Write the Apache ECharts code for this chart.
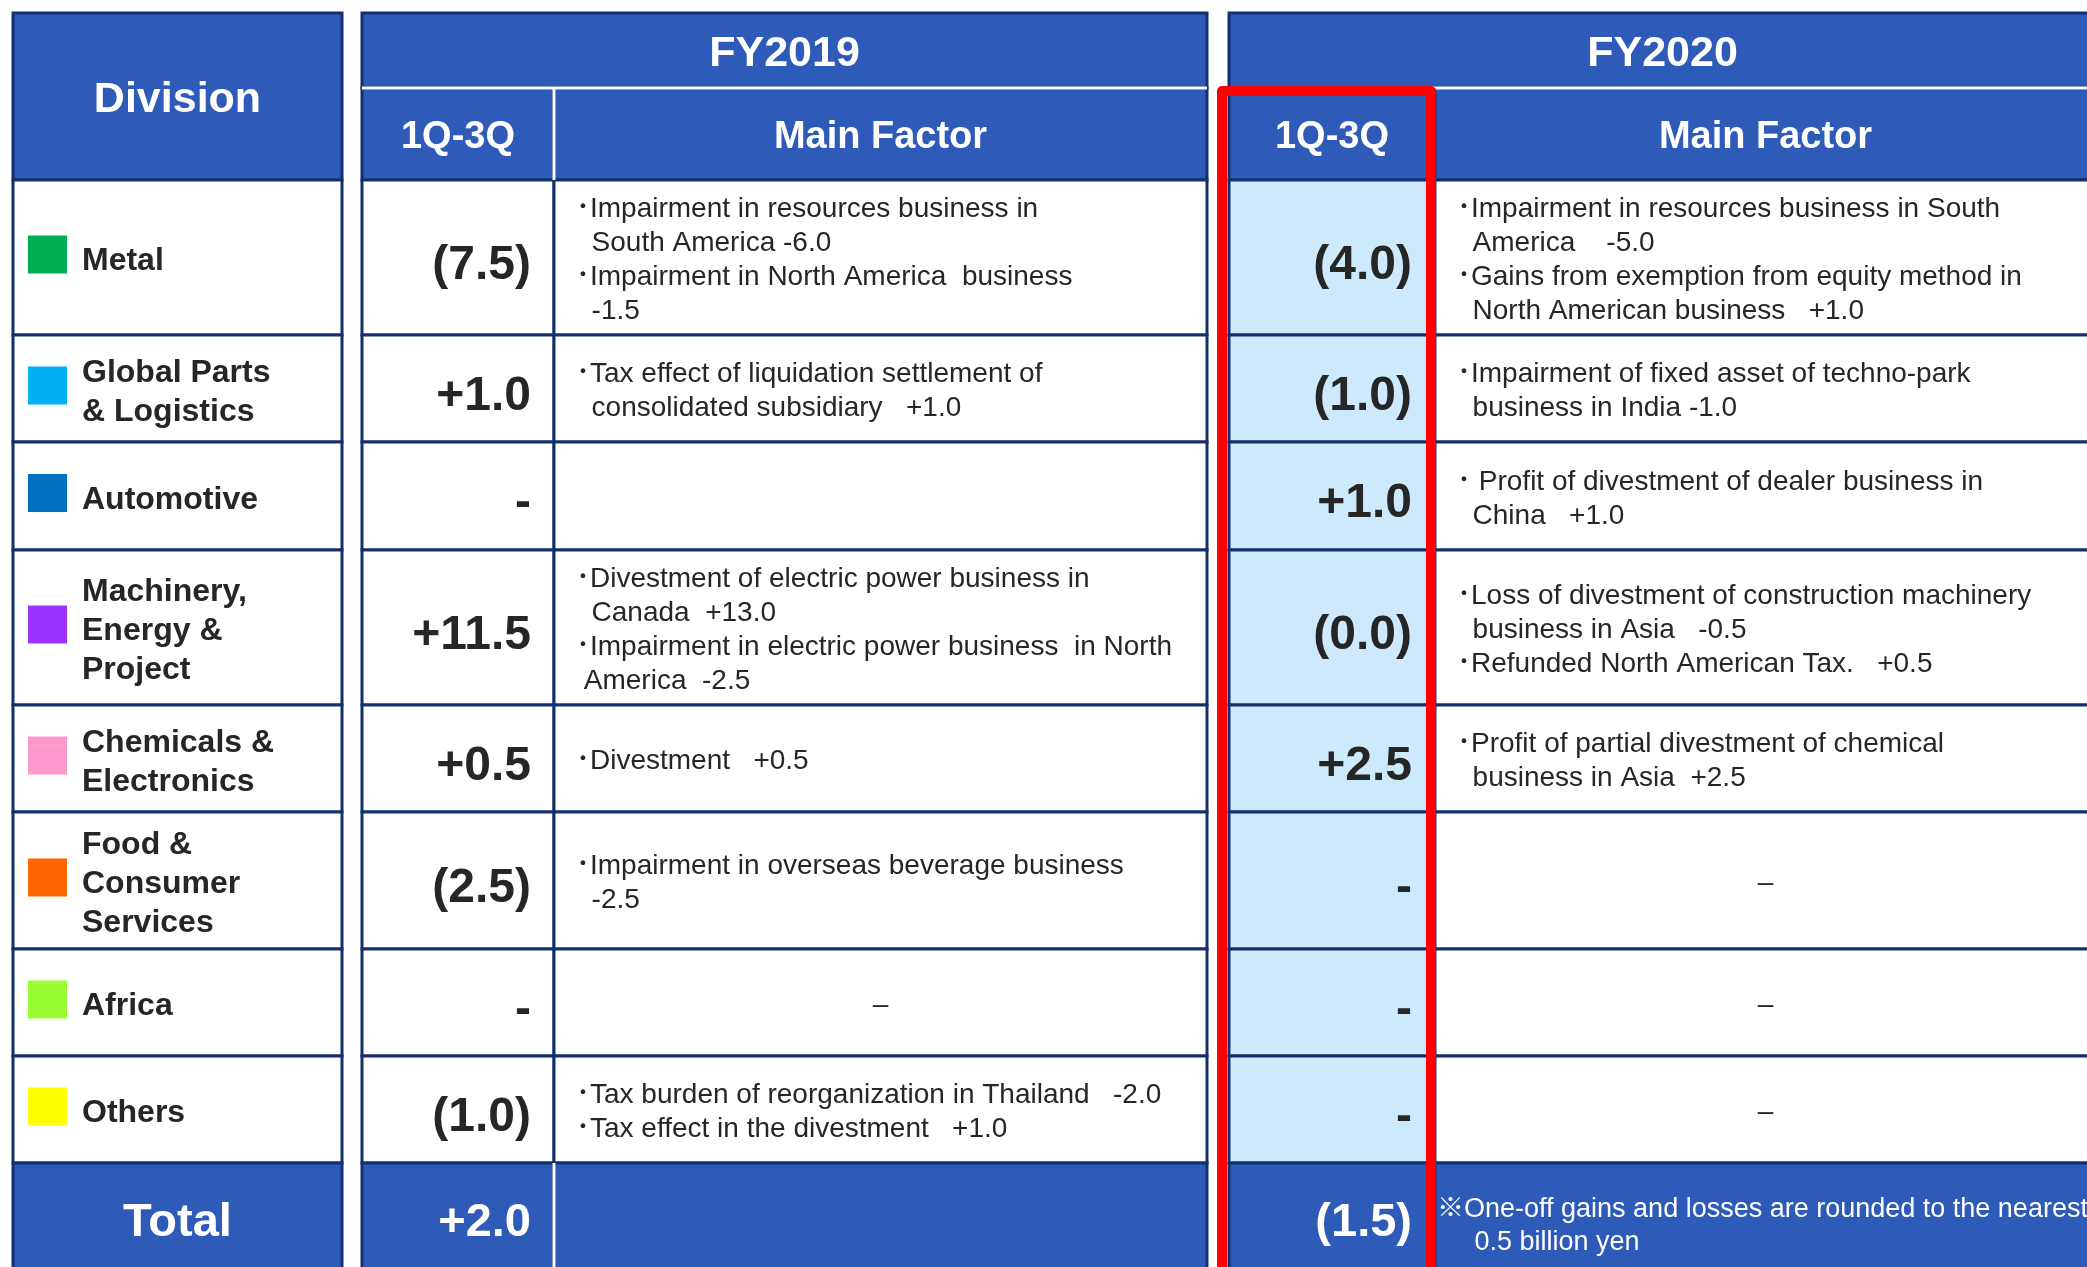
<!DOCTYPE html>
<html>
<head>
<meta charset="utf-8">
<script src="https://cdn.jsdelivr.net/npm/echarts@6/dist/echarts.min.js"></script>
<style>
html,body{margin:0;padding:0;background:#ffffff;}
#chart{width:2087px;height:1267px;}
</style>
</head>
<body>
<div id="chart"></div>
<script>
// ---------------- DATA ----------------
const divisions = [
  'Metal',
  'Global Parts\n& Logistics',
  'Automotive',
  'Machinery,\nEnergy &\nProject',
  'Chemicals &\nElectronics',
  'Food &\nConsumer\nServices',
  'Africa',
  'Others'
];
const divisionSwatches = ['#00B050', '#00B0F0', '#0070C0', '#9933FF', '#FF99CC', '#FF6600', '#99FF33', '#FFFF00'];

const headerDivision = 'Division';
const headerTotal = 'Total';
const periods = ['FY2019', 'FY2020'];
const subHeaders = ['1Q-3Q', 'Main Factor'];

// one-off gains and losses (billion yen), null = none
const fy2019Values = [-7.5, 1.0, null, 11.5, 0.5, -2.5, null, -1.0];
const fy2020Values = [-4.0, -1.0, 1.0, -0.0, 2.5, null, null, null];
const totalValues = [2.0, -1.5];

const fy2019Factors = [
  '\uFF65Impairment in resources business in\n  South America -6.0\n\uFF65Impairment in North America  business\n  -1.5',
  '\uFF65Tax effect of liquidation settlement of\n  consolidated subsidiary   +1.0',
  '',
  '\uFF65Divestment of electric power business in\n  Canada  +13.0\n\uFF65Impairment in electric power business  in North\n America  -2.5',
  '\uFF65Divestment   +0.5',
  '\uFF65Impairment in overseas beverage business\n  -2.5',
  null,
  '\uFF65Tax burden of reorganization in Thailand   -2.0\n\uFF65Tax effect in the divestment   +1.0'
];
const fy2020Factors = [
  '\uFF65Impairment in resources business in South\n  America    -5.0\n\uFF65Gains from exemption from equity method in\n  North American business   +1.0',
  '\uFF65Impairment of fixed asset of techno-park\n  business in India -1.0',
  '\uFF65 Profit of divestment of dealer business in\n  China   +1.0',
  '\uFF65Loss of divestment of construction machinery\n  business in Asia   -0.5\n\uFF65Refunded North American Tax.   +0.5',
  '\uFF65Profit of partial divestment of chemical\n  business in Asia  +2.5',
  null,
  null,
  null
];
const noFactorMark = '\u2013';
const footnote = '\u203BOne-off gains and losses are rounded to the nearest\n     0.5 billion yen';

// ---------------- LAYOUT (axis units) ----------------
const COL = {divL: 13, divR: 342, a0: 362, a1: 554, a2: 1207, b0: 1229, b1: 1435, b2: 2096};
const ROW = {top: 13, band: 88, head: 180, body: [335, 442, 550, 705, 812, 949, 1056, 1163], bottom: 1275};
const HIGHLIGHT = {x0: 1222, x1: 1431, y0: 91, y1: 1300, width: 10};

// ---------------- STYLE ----------------
const BLUE = '#2E5BB7';
const NAVY = '#13306E';
const LIGHT = '#CCEAFB';
const TEXT = '#262626';
const FAM = 'Liberation Sans, Arial, Noto Sans CJK JP, sans-serif';

function fmt(v) {
  if (v === null || v === undefined) return '-';
  if (v < 0 || Object.is(v, -0)) return '(' + Math.abs(v).toFixed(1) + ')';
  return '+' + v.toFixed(1);
}

// ---------------- build cells ----------------
const cellData = [];
const cellMeta = [];
function addCell(x0, y0, x1, y1, meta) {
  cellData.push([x0, y0, x1, y1]);
  cellMeta.push(meta);
}
const H = {size: 43, weight: 'bold', dy: 4};
const S = {size: 38, weight: 'bold', dy: 4};
const V = {size: 48, weight: 'bold', dy: 8};
const T = {size: 47, weight: 'bold', dy: 4};
const L = {size: 32, weight: 'bold', dy: 4};
const F = {size: 28, weight: 'normal', dy: 3};
const N = {size: 27, weight: 'normal', dy: 7};
addCell(COL.divL, ROW.top, COL.divR, ROW.head, {fill: BLUE, text: headerDivision, align: 'center', f: H, color: '#fff'});
addCell(COL.a0, ROW.top, COL.a2, ROW.band, {fill: BLUE, text: periods[0], align: 'center', f: H, color: '#fff'});
addCell(COL.a0, ROW.band, COL.a1, ROW.head, {fill: BLUE, text: subHeaders[0], align: 'center', f: S, color: '#fff'});
addCell(COL.a1, ROW.band, COL.a2, ROW.head, {fill: BLUE, text: subHeaders[1], align: 'center', f: S, color: '#fff'});
addCell(COL.b0, ROW.top, COL.b2, ROW.band, {fill: BLUE, text: periods[1], align: 'center', f: H, color: '#fff'});
addCell(COL.b0, ROW.band, COL.b1, ROW.head, {fill: BLUE, text: subHeaders[0], align: 'center', f: S, color: '#fff'});
addCell(COL.b1, ROW.band, COL.b2, ROW.head, {fill: BLUE, text: subHeaders[1], align: 'center', f: S, color: '#fff'});

divisions.forEach(function (name, i) {
  const y0 = i === 0 ? ROW.head : ROW.body[i - 1];
  const y1 = ROW.body[i];
  addCell(COL.divL, y0, COL.divR, y1, {fill: '#fff', swatch: divisionSwatches[i], text: name, align: 'label', f: L, color: TEXT, lineHeight: 39});
  addCell(COL.a0, y0, COL.a1, y1, {fill: '#fff', text: fmt(fy2019Values[i]), align: 'right', f: V, color: TEXT});
  const f19 = fy2019Factors[i];
  addCell(COL.a1, y0, COL.a2, y1, f19 === null
    ? {fill: '#fff', text: noFactorMark, align: 'center', f: F, color: TEXT}
    : {fill: '#fff', text: f19, align: 'left', f: F, color: TEXT, lineHeight: 34});
  addCell(COL.b0, y0, COL.b1, y1, {fill: LIGHT, text: fmt(fy2020Values[i]), align: 'right', f: V, color: TEXT});
  const f20 = fy2020Factors[i];
  addCell(COL.b1, y0, COL.b2, y1, f20 === null
    ? {fill: '#fff', text: noFactorMark, align: 'center', f: F, color: TEXT}
    : {fill: '#fff', text: f20, align: 'left', f: F, color: TEXT, lineHeight: 34});
});
const tY0 = ROW.body[ROW.body.length - 1];
addCell(COL.divL, tY0, COL.divR, ROW.bottom, {fill: BLUE, text: headerTotal, align: 'center', f: T, color: '#fff'});
addCell(COL.a0, tY0, COL.a1, ROW.bottom, {fill: BLUE, text: fmt(totalValues[0]), align: 'right', f: T, color: '#fff'});
addCell(COL.a1, tY0, COL.a2, ROW.bottom, {fill: BLUE, text: '', align: 'left', f: F, color: '#fff'});
addCell(COL.b0, tY0, COL.b1, ROW.bottom, {fill: BLUE, text: fmt(totalValues[1]), align: 'right', f: T, color: '#fff'});
addCell(COL.b1, tY0, COL.b2, ROW.bottom, {fill: BLUE, text: footnote, align: 'note', f: N, color: '#fff', lineHeight: 33});

// white separator lines inside blue areas
const whiteLines = [
  [COL.a0, ROW.band, COL.a2, ROW.band],
  [COL.b0, ROW.band, COL.b2, ROW.band],
  [COL.a1, ROW.band, COL.a1, ROW.head],
  [COL.a1, tY0, COL.a1, ROW.bottom]
];

function renderCell(params, api) {
  const m = cellMeta[params.dataIndex];
  const p0 = api.coord([api.value(0), api.value(1)]);
  const p1 = api.coord([api.value(2), api.value(3)]);
  const x0 = p0[0], y0 = p0[1], x1 = p1[0], y1 = p1[1];
  const cy = (y0 + y1) / 2;
  const children = [{
    type: 'rect',
    shape: {x: x0, y: y0, width: x1 - x0, height: y1 - y0},
    style: {fill: m.fill, stroke: NAVY, lineWidth: 3}
  }];
  let tx, align = 'left';
  if (m.align === 'center') { tx = (x0 + x1) / 2; align = 'center'; }
  else if (m.align === 'right') { tx = x1 - 23; align = 'right'; }
  else if (m.align === 'label') { tx = x0 + 69; }
  else if (m.align === 'note') { tx = x0 + 2; }
  else { tx = x0 + 22; }
  if (m.swatch) {
    children.push({type: 'rect', shape: {x: x0 + 15, y: cy - 22, width: 39, height: 38}, style: {fill: m.swatch}});
  }
  if (m.text) {
    children.push({
      type: 'text',
      style: {text: m.text, x: tx, y: cy + m.f.dy, align: align, verticalAlign: 'middle',
        fontFamily: FAM, fontSize: m.f.size, fontWeight: m.f.weight, fill: m.color, lineHeight: m.lineHeight}
    });
  }
  return {type: 'group', children: children};
}

function renderLine(params, api) {
  const p0 = api.coord([api.value(0), api.value(1)]);
  const p1 = api.coord([api.value(2), api.value(3)]);
  return {type: 'line', shape: {x1: p0[0], y1: p0[1], x2: p1[0], y2: p1[1]}, style: {stroke: '#ffffff', lineWidth: 3}};
}

function renderHighlight(params, api) {
  const p0 = api.coord([api.value(0), api.value(1)]);
  const p1 = api.coord([api.value(2), api.value(3)]);
  return {type: 'rect', shape: {x: p0[0], y: p0[1], width: p1[0] - p0[0], height: p1[1] - p0[1]},
    style: {fill: null, stroke: '#FF0000', lineWidth: HIGHLIGHT.width, lineJoin: 'round'}};
}

const chart = echarts.init(document.getElementById('chart'), null, {renderer: 'canvas'});
chart.setOption({
  animation: false,
  backgroundColor: '#ffffff',
  grid: {left: 0, right: 0, top: 0, bottom: 0},
  xAxis: {type: 'value', min: 0, max: 2087, show: false},
  yAxis: {type: 'value', min: 0, max: 1267, inverse: true, show: false},
  series: [
    {type: 'custom', renderItem: renderCell, data: cellData, encode: {x: [0, 2], y: [1, 3]}, clip: false, silent: true},
    {type: 'custom', renderItem: renderLine, data: whiteLines, encode: {x: [0, 2], y: [1, 3]}, clip: false, silent: true},
    {type: 'custom', renderItem: renderHighlight, data: [[HIGHLIGHT.x0, HIGHLIGHT.y0, HIGHLIGHT.x1, HIGHLIGHT.y1]], encode: {x: [0, 2], y: [1, 3]}, clip: false, silent: true}
  ]
});
</script>
</body>
</html>
